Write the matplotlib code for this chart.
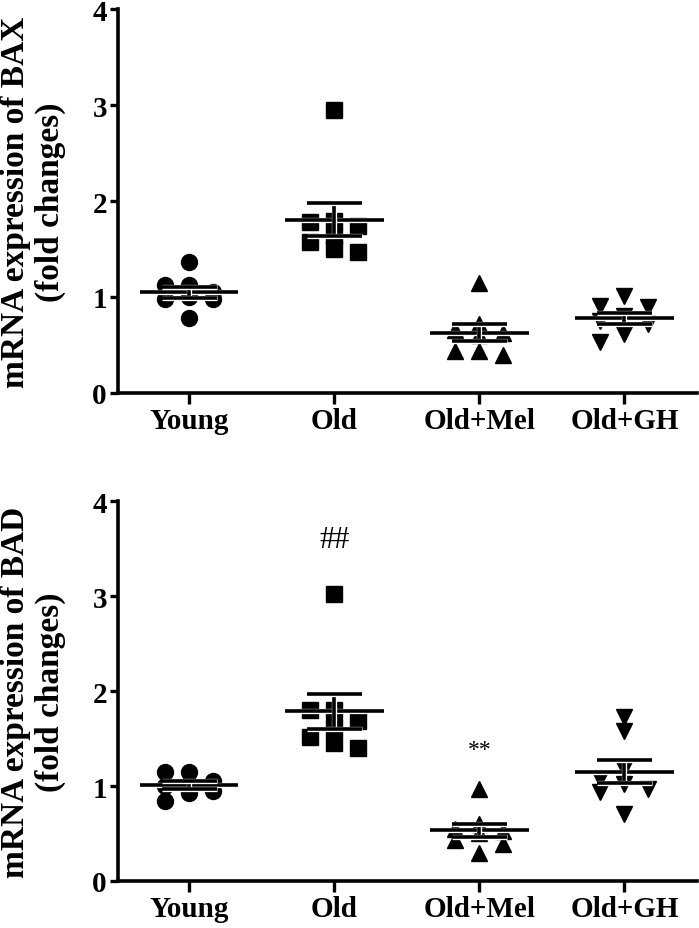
import numpy as np
import matplotlib.pyplot as plt
import matplotlib.patheffects as pe

plt.rcParams["font.family"] = ["Liberation Serif", "DejaVu Serif"]

groups = ["Young", "Old", "Old+Mel", "Old+GH"]
markers = ["o", "s", "^", "v"]

# BAX fold changes per animal
bax_young = [1.36, 1.12, 1.12, 1.05, 1.00, 0.98, 0.98, 0.78]
bax_old = [2.95, 1.79, 1.78, 1.74, 1.64, 1.57, 1.50, 1.47]
bax_mel = [1.15, 0.72, 0.66, 0.62, 0.60, 0.44, 0.44, 0.40]
bax_gh = [1.01, 0.91, 0.90, 0.80, 0.75, 0.72, 0.61, 0.53]

# BAD fold changes per animal
bad_young = [1.15, 1.15, 1.05, 1.02, 1.00, 0.95, 0.93, 0.84]
bad_old = [3.02, 1.80, 1.80, 1.68, 1.62, 1.52, 1.45, 1.40]
bad_mel = [0.97, 0.60, 0.55, 0.53, 0.50, 0.43, 0.39, 0.29]
bad_gh = [1.73, 1.58, 1.18, 1.07, 1.02, 0.97, 0.94, 0.71]

# significance marks: (group index, y, text, size)
bad_marks = [(1, 3.6, "##", 22), (2, 1.38, "**", 17)]


def swarm(values, xppu, yppu, diam=12.0, step=24.0):
    # greedy layout: one step left/right when points collide, overlap allowed
    placed = []
    offsets = np.zeros(len(values))
    order = np.argsort(values, kind="stable")[::-1]
    for i in order:
        y = values[i] * yppu
        best_x, best_d = 0.0, -1.0
        for k in [0, -1, 1]:
            x = k * step
            d = min([np.hypot(x - px, y - py) for px, py in placed] or [1e9])
            if d >= diam:
                best_x = x
                break
            if d > best_d:
                best_x, best_d = x, d
        placed.append((best_x, y))
        offsets[i] = best_x / xppu
    return offsets


def draw_panel(ax, data, ylabel, marks=()):
    ax.set_xlim(-0.49, 3.5)
    ax.set_ylim(0, 4)
    bbox = ax.get_window_extent()
    xppu = bbox.width / 3.99
    yppu = bbox.height / 4.0
    line_fx = [pe.withStroke(linewidth=3.8, foreground="white")]

    for i, vals in enumerate(data):
        vals = np.asarray(vals)
        offs = swarm(vals, xppu, yppu)
        ax.plot(i + offs, vals, ls="none", marker=markers[i], ms=11.5,
                color="black", clip_on=False, zorder=3)
        m = vals.mean()
        sem = vals.std(ddof=1) / np.sqrt(len(vals))
        ax.hlines(m, i - 0.34, i + 0.34, color="black", lw=2.6,
                  zorder=4, path_effects=line_fx)
        ax.vlines(i, m - sem, m + sem, color="black", lw=2.6,
                  zorder=4, path_effects=line_fx)
        ax.hlines([m - sem, m + sem], i - 0.19, i + 0.19, color="black",
                  lw=2.6, zorder=4, path_effects=line_fx)

    for gi, y, txt, size in marks:
        ax.text(gi, y, txt, ha="center", va="center", fontsize=size)

    ax.set_xticks(range(len(groups)))
    ax.set_xticklabels(groups, fontsize=21, fontweight="bold")
    ax.set_yticks([0, 1, 2, 3, 4])
    ax.set_yticklabels(["0", "1", "2", "3", "4"], fontsize=21,
                       fontweight="bold")
    ax.tick_params(axis="x", length=8, width=2.4, pad=2)
    ax.tick_params(axis="y", length=6, width=2.4, pad=2)
    for side in ["top", "right"]:
        ax.spines[side].set_visible(False)
    for side in ["left", "bottom"]:
        ax.spines[side].set_linewidth(2.6)
    ax.set_ylabel(ylabel, fontsize=24, fontweight="bold", linespacing=1.15)
    ax.yaxis.set_label_coords(-0.09, 0.5)


fig = plt.figure(figsize=(6.99, 9.29), dpi=100)
ax1 = fig.add_axes([0.1688, 0.5759, 0.8283, 0.4133])
ax2 = fig.add_axes([0.1688, 0.0506, 0.8283, 0.4090])

draw_panel(ax1, [bax_young, bax_old, bax_mel, bax_gh],
           "mRNA expression of BAX\n(fold changes)")
draw_panel(ax2, [bad_young, bad_old, bad_mel, bad_gh],
           "mRNA expression of BAD\n(fold changes)", bad_marks)

fig.savefig("out.png", dpi=100)
